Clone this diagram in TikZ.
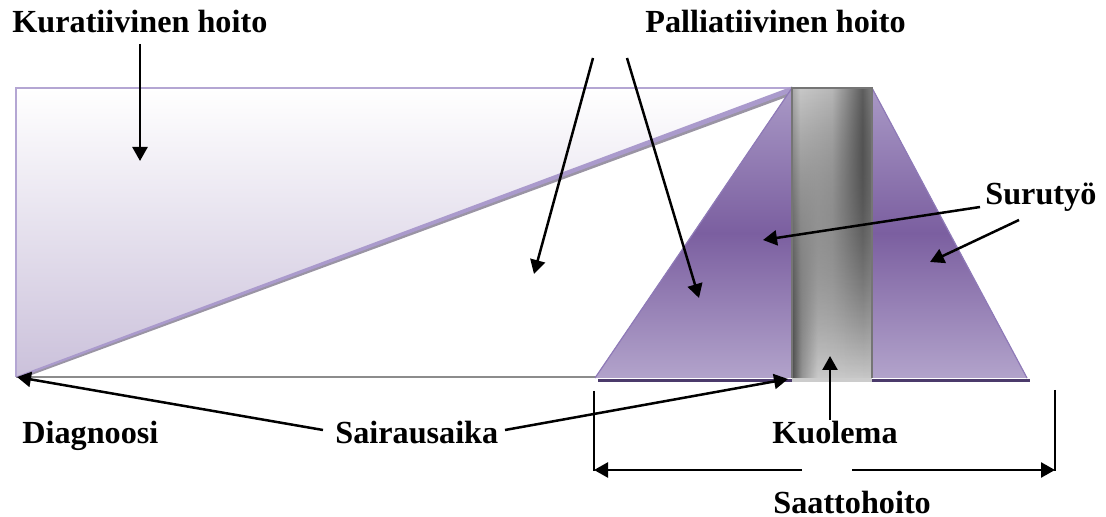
\documentclass[tikz,border=0pt]{standalone}
\usepackage{fontspec}
\setmainfont{Liberation Serif}
\usetikzlibrary{arrows.meta,fadings}
\definecolor{lav}{HTML}{B4A6D3}
\definecolor{gradbot}{HTML}{CBC1DB}
\definecolor{ptop}{HTML}{A999C6}
\definecolor{pmid}{HTML}{7B5FA0}
\definecolor{pbot}{HTML}{B2A3CB}
\definecolor{pedge}{HTML}{8F7AB8}
\definecolor{pshadow}{HTML}{4B3A6B}
\definecolor{diagp}{HTML}{AA9ACC}
\definecolor{diagg}{HTML}{9A94A4}
\definecolor{gA}{HTML}{4E4E4E}
\definecolor{gB}{HTML}{959595}
\definecolor{gC}{HTML}{CBCBCB}
\definecolor{gD}{HTML}{C8C8C8}
\definecolor{gE}{HTML}{A8A8A8}
\definecolor{gF}{HTML}{B8B8B8}
\definecolor{gG}{HTML}{5E5E5E}
\definecolor{gH}{HTML}{808080}
\definecolor{colborder}{HTML}{757575}
\pgfdeclarehorizontalshading{colbot}{100bp}{color(0bp)=(gA); color(25bp)=(gA); color(31bp)=(gB); color(41bp)=(gC); color(75bp)=(gD); color(100bp)=(gD)}
\pgfdeclarehorizontalshading{coltop}{100bp}{color(0bp)=(gE); color(25bp)=(gE); color(30bp)=(gD); color(50bp)=(gF); color(69bp)=(gG); color(75bp)=(gH); color(100bp)=(gH)}
\begin{document}
\begin{tikzpicture}[x=0.5pt,y=-0.5pt,
  font=\fontsize{16.1}{20}\selectfont\bfseries,
  lbl/.style={anchor=base west, inner sep=0pt},
  arr/.style={line width=1.25pt, -{Triangle[length=7pt,width=7.5pt]}},
  bar/.style={line width=1pt},
  purplefill/.style={top color=ptop, bottom color=pbot, middle color=pmid}]
\useasboundingbox (0,0) rectangle (1106,517);
% left gradient region
\fill[top color=white, bottom color=gradbot] (16,88) -- (792,88) -- (16,377) -- cycle;
\draw[lav, line width=1.1pt] (16,377) -- (16,88) -- (792,88);
\draw[gray!90, line width=1pt] (16,377) -- (596,377);
% diagonal band
\fill[diagg] (16,377.5) -- (792,91.5) -- (792,95) -- (22,378.5) -- cycle;
\fill[diagp] (16,376.5) -- (792,86.5) -- (792,92) -- (18,378) -- cycle;
% pyramid
\draw[pshadow, line width=1.5pt] (598,380.5) -- (1030,380.5);
\fill[purplefill] (595,378) -- (792,88) -- (792,378) -- cycle;
\fill[purplefill] (872,88) -- (1027,378) -- (872,378) -- cycle;
\draw[pedge, line width=0.6pt] (595,378) -- (792,88);
\draw[pedge, line width=0.6pt] (872,88) -- (1027,378);
% column
\fill[shading=colbot] (792,88) rectangle (872,378);
\fill[shading=coltop, path fading=south] (792,88) rectangle (872,378);
\fill[gray!40] (792,378) rectangle (872,382);
\draw[colborder, line width=1pt] (792,378) -- (792,88) -- (872,88) -- (872,378);
% labels
\node[lbl] (kur) at (12,33) {Kuratiivinen hoito};
\node[lbl] (pal) at (645,33) {Palliatiivinen hoito};
\node[lbl] (sur) at (985,205) {Surutyö};
\node[lbl] (dia) at (22,443) {Diagnoosi};
\node[lbl] (sai) at (335,443) {Sairausaika};
\node[lbl] (kuo) at (772,444) {Kuolema};
\node[lbl] (saa) at (773,513) {Saattohoito};
% arrow coordinates
\coordinate (kurS) at (140,44);  \coordinate (kurT) at (140,161);
\coordinate (palS1) at (593,58); \coordinate (palT1) at (534,274);
\coordinate (palS2) at (627,58); \coordinate (palT2) at (699,298);
\coordinate (surS1) at (980,207); \coordinate (surT1) at (763,240);
\coordinate (surS2) at (1019,220); \coordinate (surT2) at (930,262);
\coordinate (saiS1) at (323,430); \coordinate (saiT1) at (17,377);
\coordinate (saiS2) at (505,430); \coordinate (saiT2) at (788,379);
\coordinate (kuoS) at (830,420); \coordinate (kuoT) at (830,356);
\coordinate (saaLS) at (802,470); \coordinate (saaLT) at (594,470);
\coordinate (saaRS) at (852,470); \coordinate (saaRT) at (1055,470);
\coordinate (barL1) at (594,391); \coordinate (barL2) at (594,471);
\coordinate (barR1) at (1055,390); \coordinate (barR2) at (1055,471);
% arrows
\draw[arr] (kurS) -- (kurT);
\draw[arr] (palS1) -- (palT1);
\draw[arr] (palS2) -- (palT2);
\draw[arr] (surS1) -- (surT1);
\draw[arr] (surS2) -- (surT2);
\draw[arr] (saiS1) -- (saiT1);
\draw[arr] (saiS2) -- (saiT2);
\draw[arr] (kuoS) -- (kuoT);
\draw[arr] (saaLS) -- (saaLT);
\draw[arr] (saaRS) -- (saaRT);
\draw[bar] (barL1) -- (barL2);
\draw[bar] (barR1) -- (barR2);
\end{tikzpicture}
\end{document}
